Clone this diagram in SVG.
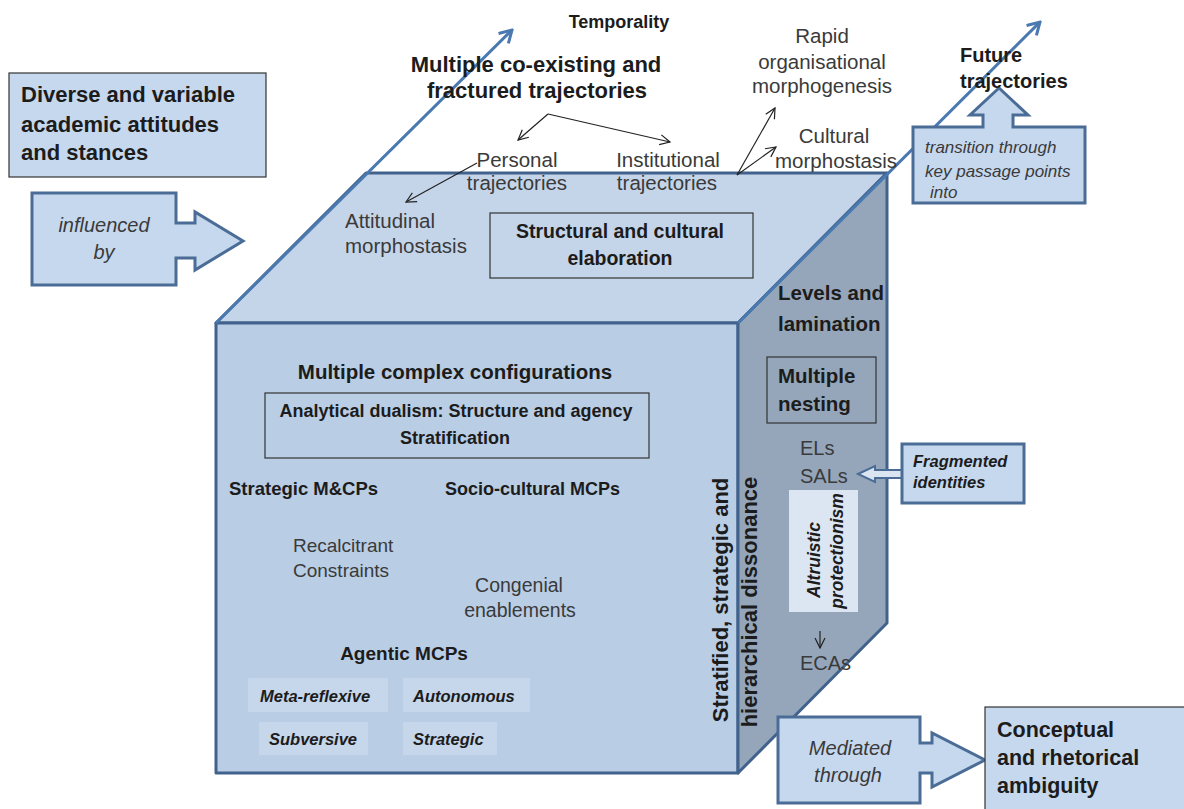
<svg xmlns="http://www.w3.org/2000/svg" width="1184" height="809" viewBox="0 0 1184 809">
  <style>
    text { font-family: "Liberation Sans", Arial, sans-serif; fill: #3a3a3a; }
    .b { font-weight: bold; fill: #1c1c1c; }
    .i { font-style: italic; }
    .m { text-anchor: middle; }
    .face { stroke: #41628c; stroke-width: 3; stroke-linejoin: round; }
    .callout { fill: #c6d8ee; stroke: #4a6c96; stroke-width: 3; stroke-linejoin: miter; }
    .frame { fill: none; stroke: #333; stroke-width: 1.2; }
    .chip { fill: #c6d6eb; }
    .thin { stroke: #222; stroke-width: 1.2; fill: none; }
    .trend { stroke: #4a79b0; stroke-width: 3; fill: none; }
  </style>
  <defs>
    <marker id="open-big" viewBox="0 0 16 16" refX="14" refY="8" markerWidth="16" markerHeight="16" markerUnits="userSpaceOnUse" orient="auto">
      <path d="M2,1 L14,8 L2,15" fill="none" stroke="#4a79b0" stroke-width="3"/>
    </marker>
    <marker id="open-small" viewBox="0 0 12 12" refX="11" refY="6" markerWidth="12" markerHeight="12" markerUnits="userSpaceOnUse" orient="auto">
      <path d="M1,1 L11,6 L1,11" fill="none" stroke="#222" stroke-width="1.2"/>
    </marker>
  </defs>

  <!-- cube faces -->
  <g id="cube">
    <polygon class="face" fill="#c5d5e9" points="216,323 366,173 887,173 738,323"/>
    <rect class="face" fill="#b9cde5" x="216" y="323" width="522" height="450"/>
    <polygon class="face" fill="#95a6bb" points="738,323 887,173 887,623 738,773"/>
  </g>

  <!-- connectors -->
  <g id="connectors">
    <line class="trend" x1="216" y1="323" x2="512" y2="30" marker-end="url(#open-big)"/>
    <line class="trend" x1="738" y1="323" x2="1040" y2="22" marker-end="url(#open-big)"/>
    <polyline class="thin" points="548,114 518,140" marker-end="url(#open-small)"/>
    <polyline class="thin" points="548,114 670,142" marker-end="url(#open-small)"/>
    <line class="thin" x1="477" y1="163" x2="406" y2="202" marker-end="url(#open-small)"/>
    <line class="thin" x1="737" y1="175" x2="775" y2="108" marker-end="url(#open-small)"/>
    <line class="thin" x1="737" y1="175" x2="776" y2="147" marker-end="url(#open-small)"/>
    <line class="thin" x1="820" y1="631" x2="820" y2="648" marker-end="url(#open-small)"/>
  </g>

  <!-- left: attitudes -->
  <g id="attitudes">
    <rect x="9" y="73" width="257" height="104" fill="#c6d8ee" stroke="#333" stroke-width="1.2"/>
    <text class="b" x="21" y="102" font-size="22">Diverse and variable</text>
    <text class="b" x="21" y="132" font-size="22">academic attitudes</text>
    <text class="b" x="21" y="160" font-size="22">and stances</text>
  </g>
  <g id="influenced">
    <polygon class="callout" points="32,193 176,193 176,223 195,223 195,212 243,241 195,270 195,258 176,258 176,285 32,285"/>
    <text class="i m" x="104" y="232" font-size="20">influenced</text>
    <text class="i m" x="104" y="259" font-size="20">by</text>
  </g>

  <!-- temporality -->
  <g id="temporality">
    <text class="b m" x="619" y="28" font-size="18">Temporality</text>
    <text class="b m" x="536" y="72" font-size="22">Multiple co-existing and</text>
    <text class="b m" x="537" y="98" font-size="22">fractured trajectories</text>
  </g>
  <g id="personal">
    <text class="m" x="517" y="167" font-size="20.5">Personal</text>
    <text class="m" x="517" y="190" font-size="20.5">trajectories</text>
  </g>
  <g id="institutional">
    <text class="m" x="668" y="167" font-size="20.5">Institutional</text>
    <text class="m" x="667" y="190" font-size="20.5">trajectories</text>
  </g>
  <g id="attitudinal">
    <text x="345" y="228" font-size="20.5">Attitudinal</text>
    <text x="345" y="253" font-size="20.5">morphostasis</text>
  </g>
  <g id="elaboration">
    <rect class="frame" x="490" y="213" width="263" height="65"/>
    <text class="b m" x="620" y="238" font-size="19.5">Structural and cultural</text>
    <text class="b m" x="620" y="265" font-size="19.5">elaboration</text>
  </g>
  <g id="morphogenesis">
    <text class="m" x="822" y="43" font-size="20.5">Rapid</text>
    <text class="m" x="822" y="69" font-size="20.5">organisational</text>
    <text class="m" x="822" y="93" font-size="20.5">morphogenesis</text>
  </g>
  <g id="cultural-morphostasis">
    <text class="m" x="834" y="143" font-size="20.5">Cultural</text>
    <text class="m" x="836" y="168" font-size="20.5">morphostasis</text>
  </g>

  <!-- future -->
  <g id="transition">
    <polygon class="callout" points="913,127 983,127 983,115 970,115 999,88 1028,115 1013,115 1013,127 1085,127 1085,203 913,203"/>
    <text class="i" x="925" y="153" font-size="17">transition through</text>
    <text class="i" x="925" y="177" font-size="17">key passage points</text>
    <text class="i" x="930" y="198" font-size="17">into</text>
  </g>
  <g id="future">
    <text class="b" x="960" y="62" font-size="20">Future</text>
    <text class="b" x="960" y="88" font-size="20">trajectories</text>
  </g>

  <!-- front face -->
  <g id="configurations">
    <text class="b m" x="455" y="379" font-size="20.5">Multiple complex configurations</text>
  </g>
  <g id="dualism">
    <rect class="frame" x="265" y="393" width="384" height="65"/>
    <text class="b m" x="456" y="417" font-size="18">Analytical dualism: Structure and agency</text>
    <text class="b m" x="455" y="444" font-size="18">Stratification</text>
  </g>
  <g id="strategic-mcps">
    <text class="b" x="229" y="495" font-size="18.5">Strategic M&amp;CPs</text>
  </g>
  <g id="socio-cultural">
    <text class="b" x="445" y="495" font-size="18">Socio-cultural MCPs</text>
  </g>
  <g id="constraints">
    <text x="293" y="552" font-size="19">Recalcitrant</text>
    <text x="293" y="577" font-size="19">Constraints</text>
  </g>
  <g id="enablements">
    <text class="m" x="519" y="592" font-size="19.5">Congenial</text>
    <text class="m" x="520" y="617" font-size="19.5">enablements</text>
  </g>
  <g id="agentic">
    <text class="b m" x="404" y="660" font-size="19">Agentic MCPs</text>
  </g>
  <g id="meta-reflexive">
    <rect class="chip" x="248" y="678" width="140" height="34"/>
    <text class="b i" x="260" y="702" font-size="16.5">Meta-reflexive</text>
  </g>
  <g id="autonomous">
    <rect class="chip" x="403" y="678" width="127" height="34"/>
    <text class="b i" x="413" y="702" font-size="16.5">Autonomous</text>
  </g>
  <g id="subversive">
    <rect class="chip" x="259" y="722" width="109" height="33"/>
    <text class="b i" x="269" y="745" font-size="16.5">Subversive</text>
  </g>
  <g id="strategic">
    <rect class="chip" x="403" y="722" width="94" height="33"/>
    <text class="b i" x="413" y="745" font-size="16.5">Strategic</text>
  </g>
  <g id="dissonance">
    <text class="b m" font-size="22" transform="translate(728,600) rotate(-90)">Stratified, strategic and</text>
    <text class="b m" font-size="22" transform="translate(757,602) rotate(-90)">hierarchical dissonance</text>
  </g>

  <!-- right face -->
  <g id="levels">
    <text class="b" x="778" y="300" font-size="20.5">Levels and</text>
    <text class="b" x="778" y="331" font-size="20.5">lamination</text>
  </g>
  <g id="nesting">
    <rect class="frame" x="767" y="357" width="109" height="66"/>
    <text class="b" x="778" y="383" font-size="20.5">Multiple</text>
    <text class="b" x="778" y="411" font-size="20.5">nesting</text>
  </g>
  <g id="els-sals">
    <text x="800" y="455" font-size="20">ELs</text>
    <text x="800" y="483" font-size="20">SALs</text>
  </g>
  <g id="altruistic">
    <rect x="789" y="490" width="69" height="122" fill="#dce6f2"/>
    <text class="b i m" font-size="17.5" transform="translate(820,560) rotate(-90)">Altruistic</text>
    <text class="b i m" font-size="17.5" transform="translate(843,551) rotate(-90)">protectionism</text>
  </g>
  <g id="ecas">
    <text x="800" y="670" font-size="20">ECAs</text>
  </g>
  <g id="fragmented">
    <polygon fill="#dbe5f1" stroke="#4a6c96" stroke-width="2" points="858,474 875,466 875,470 902,470 902,478 875,478 875,482"/>
    <rect class="callout" x="902" y="444" width="122" height="59"/>
    <text class="b i" x="913" y="467" font-size="16.5">Fragmented</text>
    <text class="b i" x="913" y="488" font-size="16.5">identities</text>
  </g>

  <!-- bottom right -->
  <g id="mediated">
    <polygon class="callout" points="778,717 920,717 920,743 932,743 932,733 985,760 932,787 932,773 920,773 920,803 778,803"/>
    <text class="i m" x="850" y="755" font-size="20">Mediated</text>
    <text class="i m" x="848" y="782" font-size="20">through</text>
  </g>
  <g id="ambiguity">
    <rect x="985" y="707" width="210" height="110" fill="#c6d8ee" stroke="#333" stroke-width="1.2"/>
    <text class="b" x="997" y="737" font-size="21.5">Conceptual</text>
    <text class="b" x="997" y="765" font-size="21.5">and rhetorical</text>
    <text class="b" x="997" y="793" font-size="21.5">ambiguity</text>
  </g>
</svg>
